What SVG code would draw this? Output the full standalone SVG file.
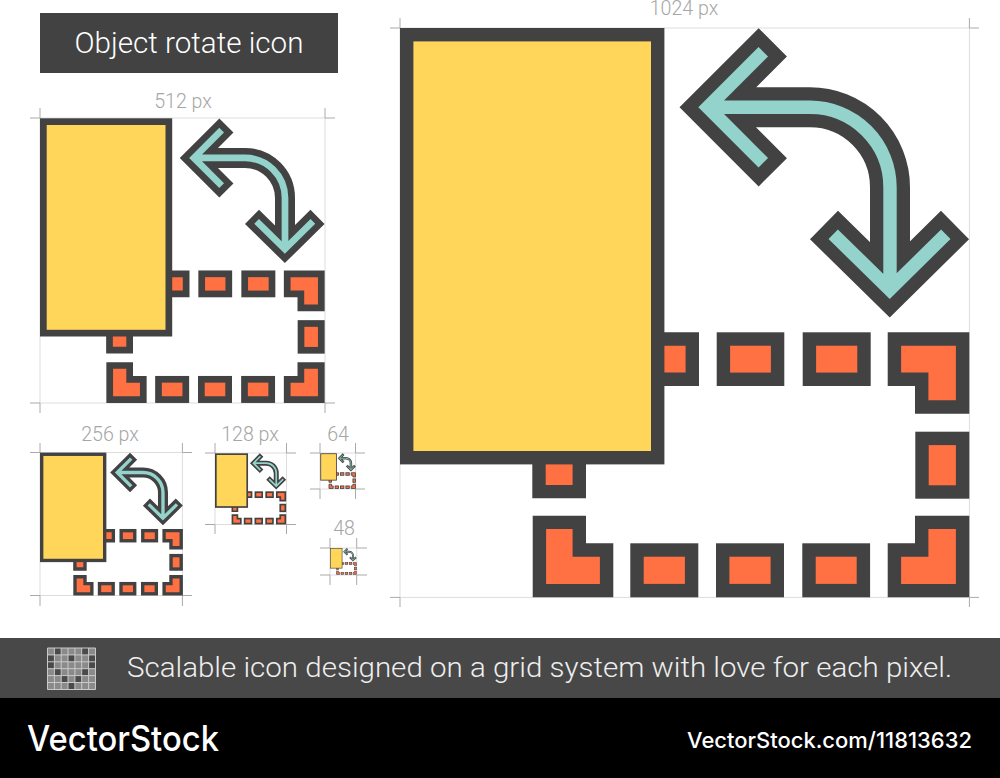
<svg xmlns="http://www.w3.org/2000/svg" xmlns:xlink="http://www.w3.org/1999/xlink" width="1000" height="778" viewBox="0 0 1000 778">
<style>
text{font-family:Roboto,"Liberation Sans",sans-serif}
.lbl{font-weight:300;fill:#a6a6a6;text-anchor:middle;font-size:19.6px}
.frame{fill:none;stroke:#ddd;stroke-width:1}
.tick{fill:none;stroke:#aaa;stroke-width:1}
.d{fill:#ff7043;stroke:#424242;stroke-width:13.4;stroke-linejoin:miter}
.y{fill:#ffd55a;stroke:#424242;stroke-width:13.4;stroke-linejoin:miter}
.ao{fill:none;stroke:#424242;stroke-width:40;stroke-linejoin:miter;stroke-miterlimit:4}
.ai{fill:none;stroke:#93d3cc;stroke-width:13.4;stroke-linejoin:miter;stroke-miterlimit:4}
.cell{fill:#8a8a8a}
.cd{fill:#4a4a4a}
.gl{fill:none;stroke:#c9c9c9;stroke-width:1}
</style>
<defs>
<g id="art">
<path class="d" d="M650 339H692.3V379.3H650Z"/>
<rect class="d" x="723.4" y="339" width="54.2" height="40.3"/>
<rect class="d" x="809.4" y="339" width="54.6" height="40.3"/>
<path class="d" d="M894.4 339H962.6V407H921.7V379.3H894.4Z"/>
<rect class="d" x="922" y="438.4" width="40.6" height="53.6"/>
<path class="d" d="M921.7 522.4H962.6V590.6H894.4V550H921.7Z"/>
<rect class="d" x="637" y="550" width="54.6" height="40.6"/>
<rect class="d" x="722.7" y="550" width="54.6" height="40.6"/>
<rect class="d" x="809" y="550" width="54.4" height="40.6"/>
<path class="d" d="M539.4 522.4H579.3V550H606.6V590.6H539.4Z"/>
<path class="d" d="M539 450H579.3V491.6H539Z"/>
<rect class="y" x="406.7" y="34.7" width="251" height="423"/>
<path class="ao" d="M772.8 42.3L707.8 107.3L772.8 172.3M707.8 107.3H810A80 80 0 0 1 890 187.3V289.5M824 225L889.7 289.5L955 225"/>
<path class="ai" d="M763.3 51.8L707.8 107.3L763.3 162.8M707.8 107.3H810A80 80 0 0 1 890 187.3V289.5M833.2 234.2L889.7 289.5L945.8 234.2"/>
</g>
</defs>
<rect width="1000" height="778" fill="#fff"/>

<g id="title">
<rect x="40" y="13" width="298" height="60" fill="#424242"/>
<text x="189" y="53" font-size="29.6" font-weight="300" fill="#fff" text-anchor="middle">Object rotate icon</text>
</g>

<g id="icon-1024">
<text class="lbl" x="684" y="15">1024 px</text>
<rect class="frame" x="400" y="28" width="569.4" height="569.4"/>
<path class="tick" d="M390 28H400V18M969.4 18V28H979M390 597.4H400V607M969.4 607V597.4H979"/>
<use xlink:href="#art" href="#art"/>
</g>

<g id="icon-512">
<text class="lbl" x="183" y="108">512 px</text>
<rect class="frame" x="40" y="118" width="285" height="285"/>
<path class="tick" d="M30 118H40V108M325 108V118H335M30 403H40V413M325 413V403H335"/>
<use xlink:href="#art" href="#art" transform="translate(40 118.3) scale(.5) translate(-400 -28)"/>
</g>

<g id="icon-256">
<text class="lbl" x="110" y="441">256 px</text>
<rect class="frame" x="40" y="452.5" width="142.4" height="143"/>
<path class="tick" d="M30 452.5H40V443M182.4 443V452.5H192M30 595.5H40V606M182.4 606V595.5H192"/>
<use xlink:href="#art" href="#art" transform="translate(40 452.6) scale(.251) translate(-400 -28)"/>
</g>

<g id="icon-128">
<text class="lbl" x="250" y="441">128 px</text>
<rect class="frame" x="215" y="453" width="71.5" height="71.5"/>
<path class="tick" d="M205 453H215V443M286.5 443V453H296M205 524.5H215V534M286.5 534V524.5H296"/>
<use xlink:href="#art" href="#art" transform="translate(215 453.3) scale(.125) translate(-400 -28)"/>
</g>

<g id="icon-64">
<text class="lbl" x="338" y="441">64</text>
<rect class="frame" x="320" y="453" width="35.5" height="36"/>
<path class="tick" d="M310 453H320V443M355.5 443V453H365M310 489H320V499M355.5 499V489H365"/>
<use xlink:href="#art" href="#art" transform="translate(320.3 453.3) scale(.0625) translate(-400 -28)"/>
</g>

<g id="icon-48">
<text class="lbl" x="344" y="535">48</text>
<rect class="frame" x="330" y="548" width="26.7" height="27"/>
<path class="tick" d="M320 548H330V538M356.7 538V548H367M320 575H330V585M356.7 585V575H367"/>
<use xlink:href="#art" href="#art" transform="translate(330 548) scale(.0469) translate(-400 -28)"/>
</g>

<g id="footer">
<rect y="638" width="1000" height="60" fill="#484848"/>
<rect y="698" width="1000" height="80" fill="#000"/>
<g id="grid-icon">
<rect x="47.5" y="648" width="48" height="41.5" class="cell"/>
<path class="cd" d="M54.3 648h6.9v6.9h-6.9zM81.7 648h6.9v6.9h-6.9zM47.5 654.9h6.8v6.9h-6.8zM68 654.9h6.9v6.9H68zM88.6 654.9h6.9v6.9h-6.9zM47.5 661.8h6.8v6.9h-6.8zM88.6 661.8h6.9v6.9h-6.9zM54.3 668.7h6.9v6.9h-6.9zM81.7 668.7h6.9v6.9h-6.9zM61.2 675.6h6.8v6.9h-6.8zM74.9 675.6h6.8v6.9h-6.8zM68 682.5h6.9v7H68z"/>
<path class="gl" d="M47.5 648h48v41.5h-48zM54.4 648v41.5M61.2 648v41.5M68 648v41.5M74.9 648v41.5M81.7 648v41.5M88.6 648v41.5M47.5 654.9h48M47.5 661.8h48M47.5 668.7h48M47.5 675.6h48M47.5 682.5h48"/>
</g>
<text x="127" y="677" font-size="27.8" font-weight="300" fill="#eee" textLength="825" lengthAdjust="spacingAndGlyphs">Scalable icon designed on a grid system with love for each pixel.</text>
<text x="27" y="751" font-size="35" font-weight="500" fill="#fff" textLength="192" lengthAdjust="spacingAndGlyphs" style="font-family:Inter,Roboto,sans-serif">VectorStock</text>
<text x="687" y="748" font-size="22" font-weight="500" fill="#fff" textLength="285" lengthAdjust="spacingAndGlyphs" style="font-family:Inter,Roboto,sans-serif">VectorStock.com/11813632</text>
</g>
</svg>
